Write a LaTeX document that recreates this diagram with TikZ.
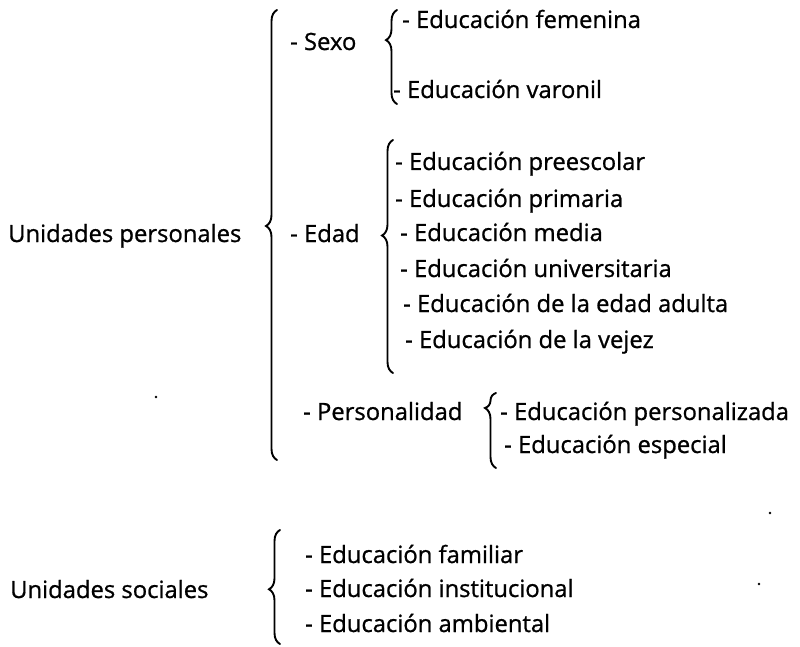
\documentclass[tikz,border=0pt]{standalone}
\usepackage{fontspec}
\setmainfont{Open Sans}
\newfontfamily\heavyfont{Open Sans}[FakeBold=0.9]
\usetikzlibrary{decorations.pathreplacing}
\begin{document}
\begin{tikzpicture}[x=1pt,y=-1pt,
  lbl/.style={anchor=base west,inner sep=0pt,font=\heavyfont\fontsize{23.8}{28}\selectfont},
  brc/.style={decorate,line width=1.9pt,line cap=round,
    decoration={brace,amplitude=11pt,aspect=#1}},
  speck/.style={fill=black,inner sep=0pt,minimum size=2.6pt,circle}]
\useasboundingbox (0,0) rectangle (800,647);
% level 0
\node[lbl] (up) at (8,242) {Unidades personales};
\node[lbl] (us) at (10,598) {Unidades sociales};
% level 1
\node[lbl] (sexo) at (290,50) {- Sexo};
\node[lbl] (edad) at (290,242) {- Edad};
\node[lbl] (pers) at (303,420) {- Personalidad};
% sexo items
\node[lbl] (fem) at (402,28) {- Educación femenina};
\node[lbl] (var) at (393,98) {- Educación varonil};
% edad items
\node[lbl] (pre) at (395,170) {- Educación preescolar};
\node[lbl] (pri) at (395,207) {- Educación primaria};
\node[lbl] (med) at (400,241) {- Educación media};
\node[lbl] (uni) at (400,277) {- Educación universitaria};
\node[lbl] (adu) at (403,312) {- Educación de la edad adulta};
\node[lbl] (vej) at (405,348) {- Educación de la vejez};
% personalidad items
\node[lbl] (psz) at (500,420) {- Educación personalizada};
\node[lbl] (esp) at (504,453) {- Educación especial};
% social items
\node[lbl] (fam) at (305,563) {- Educación familiar};
\node[lbl] (ins) at (305,597) {- Educación institucional};
\node[lbl] (amb) at (305,632) {- Educación ambiental};
% brace end points
\coordinate (mainB) at (277,460); \coordinate (mainT) at (277,10);
\coordinate (sexB) at (397,104);  \coordinate (sexT) at (397,10);
\coordinate (edB) at (393,373);   \coordinate (edT) at (393,140);
\coordinate (peB) at (496,468);   \coordinate (peT) at (496,393);
\coordinate (soB) at (280,644);   \coordinate (soT) at (280,530);
\draw[brc=0.52] (mainB) -- (mainT);
\draw[brc=0.68] (sexB) -- (sexT);
\draw[brc=0.59] (edB) -- (edT);
\draw[brc=0.8] (peB) -- (peT);
\draw[brc=0.48] (soB) -- (soT);
% scan specks
\node[speck] (s1) at (156,397) {};
\node[speck] (s2) at (770,513) {};
\node[speck] (s3) at (759,584) {};
\end{tikzpicture}
\end{document}
